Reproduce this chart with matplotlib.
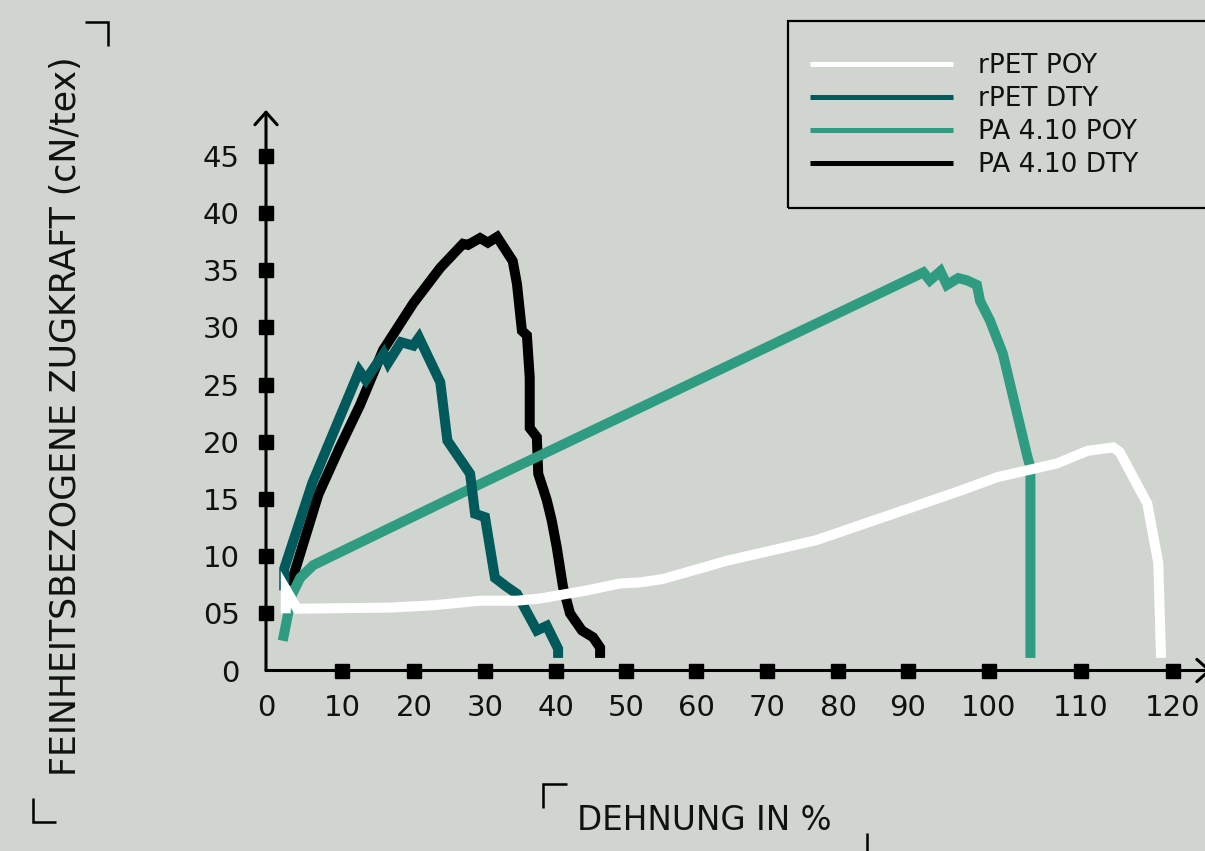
import numpy as np
import matplotlib.pyplot as plt
from matplotlib.lines import Line2D
from matplotlib.patches import Rectangle

W, H = 1205, 851
BG = "#d0d5cf"

# elongation (%) / tenacity (cN/tex)
RPET_POY_X = [2.6, 2.6, 4.1, 16.7, 22.7, 29.3, 34.5, 37.8, 44.4, 49.1, 52.0, 55.3,
              64.4, 77.0, 87.9, 96.4, 100.9, 107.4, 110.7, 113.5, 114.2, 117.2, 118.4, 118.7]
RPET_POY_Y = [5.0, 7.1, 5.4, 5.5, 5.7, 6.1, 6.1, 6.3, 7.0, 7.6, 7.7, 8.0,
              9.6, 11.4, 13.7, 15.7, 16.9, 18.1, 19.2, 19.5, 19.1, 14.6, 9.4, 1.1]

RPET_DTY_X = [2.4, 2.4, 6.1, 6.8, 12.4, 13.3, 15.8, 16.4, 18.2, 19.9, 20.7, 23.7,
              24.7, 27.9, 28.6, 30.0, 31.4, 33.1, 34.5, 37.3, 38.7, 40.3, 40.3]
RPET_DTY_Y = [7.0, 8.9, 16.4, 17.5, 26.2, 25.4, 27.7, 26.9, 28.7, 28.4, 29.1, 25.2,
              20.1, 17.2, 13.7, 13.4, 8.1, 7.3, 6.7, 3.5, 3.9, 1.9, 1.1]

PA_POY_X = [2.2, 3.4, 4.5, 6.2, 30.0, 60.0, 91.9, 92.7, 94.0, 94.8, 96.2, 97.3,
            98.5, 98.9, 100.1, 101.5, 104.2, 104.5, 104.5]
PA_POY_Y = [2.6, 6.6, 8.1, 9.2, 16.5, 25.3, 34.8, 34.1, 34.9, 33.7, 34.3, 34.1,
            33.7, 32.3, 30.6, 27.7, 18.6, 17.8, 1.1]

PA_DTY_X = [3.2, 6.9, 9.7, 12.5, 15.7, 19.9, 23.7, 26.9, 27.6, 29.3, 30.4, 31.7,
            33.9, 34.5, 35.2, 35.9, 36.3, 36.3, 37.3, 37.5, 38.7, 39.4, 40.1, 41.0,
            42.0, 43.7, 45.3, 46.3, 46.3]
PA_DTY_Y = [7.4, 15.4, 19.5, 23.2, 28.0, 32.1, 35.2, 37.3, 37.2, 37.8, 37.4, 37.9,
            35.8, 33.8, 29.7, 29.3, 25.6, 21.2, 20.4, 17.2, 14.9, 13.1, 10.8, 7.3,
            5.0, 3.5, 2.9, 2.0, 1.1]

SERIES_LABELS = ["rPET POY", "rPET DTY", "PA 4.10 POY", "PA 4.10 DTY"]
SERIES_COLORS = ["#ffffff", "#005a5c", "#2f9b80", "#000000"]

X_TICKS = list(range(0, 121, 10))
X_TICK_LABELS = [str(v) for v in X_TICKS]
Y_TICKS = list(range(0, 46, 5))
Y_TICK_LABELS = ["0", "05", "10", "15", "20", "25", "30", "35", "40", "45"]

# the printed x axis is not evenly spaced: this is where each tick sits
X_LAYOUT = np.array([0, 76, 148, 219, 290, 360, 430, 501, 572, 642, 723, 815, 907], float)
X_VALS = np.array(X_TICKS, float)


def x_forward(v):
    v = np.asarray(v, float)
    u = np.interp(v, X_VALS, X_LAYOUT)
    lo = (X_LAYOUT[1] - X_LAYOUT[0]) / (X_VALS[1] - X_VALS[0])
    hi = (X_LAYOUT[-1] - X_LAYOUT[-2]) / (X_VALS[-1] - X_VALS[-2])
    u = np.where(v < X_VALS[0], X_LAYOUT[0] + (v - X_VALS[0]) * lo, u)
    u = np.where(v > X_VALS[-1], X_LAYOUT[-1] + (v - X_VALS[-1]) * hi, u)
    return u


def x_inverse(u):
    u = np.asarray(u, float)
    v = np.interp(u, X_LAYOUT, X_VALS)
    lo = (X_VALS[1] - X_VALS[0]) / (X_LAYOUT[1] - X_LAYOUT[0])
    hi = (X_VALS[-1] - X_VALS[-2]) / (X_LAYOUT[-1] - X_LAYOUT[-2])
    v = np.where(u < X_LAYOUT[0], X_VALS[0] + (u - X_LAYOUT[0]) * lo, v)
    v = np.where(u > X_LAYOUT[-1], X_VALS[-1] + (u - X_LAYOUT[-1]) * hi, v)
    return v


def fig_xy(px, py):
    return px / W, 1 - py / H


fig = plt.figure(figsize=(W / 100, H / 100), dpi=100, facecolor=BG)
ax = fig.add_axes([0, 0, 1, 1])
ax.set_facecolor(BG)
ax.set_xscale("function", functions=(x_forward, x_inverse))
ax.set_xlim(float(x_inverse(-266)), float(x_inverse(W - 266)))
ax.set_ylim(-(H - 670.5) / 11.44, 670.5 / 11.44)

for side in ["top", "right", "left", "bottom"]:
    ax.spines[side].set_color("none")
ax.spines["left"].set_position(("data", 0))
ax.spines["bottom"].set_position(("data", 0))

ax.set_xticks(X_TICKS, X_TICK_LABELS)
ax.set_yticks(Y_TICKS, Y_TICK_LABELS)
ax.tick_params(axis="both", length=0, labelsize=21, colors="#111111")
ax.tick_params(axis="x", pad=17)
ax.tick_params(axis="y", pad=19)

# axes with open arrow heads
arrow = dict(arrowstyle="->,head_length=0.45,head_width=0.4", lw=2.2,
             color="black", shrinkA=0, shrinkB=0, mutation_scale=20)
ax.annotate("", xy=(0, 49.0), xytext=(0, 0), arrowprops=arrow,
            annotation_clip=False)
ax.annotate("", xy=(124.2, 0), xytext=(0, 0), arrowprops=arrow,
            annotation_clip=False)

# square tick markers
ax.plot(X_TICKS[1:], [0] * (len(X_TICKS) - 1), "s", ms=10, color="black",
        clip_on=False, zorder=6)
ax.plot([0] * (len(Y_TICKS) - 1), Y_TICKS[1:], "s", ms=10, color="black",
        clip_on=False, zorder=6)

curves = [
    (RPET_POY_X, RPET_POY_Y, 5),
    (RPET_DTY_X, RPET_DTY_Y, 4),
    (PA_POY_X, PA_POY_Y, 3),
    (PA_DTY_X, PA_DTY_Y, 2),
]
for (xs, ys, z), label, color in zip(curves, SERIES_LABELS, SERIES_COLORS):
    ax.plot(xs, ys, color=color, lw=7.2, solid_joinstyle="miter",
            solid_capstyle="butt", label=label, zorder=z)

handles = [Line2D([], [], color=c, lw=3.6, solid_capstyle="butt") for c in SERIES_COLORS]
ax.legend(handles, SERIES_LABELS, loc="upper left",
          bbox_to_anchor=fig_xy(810, 53), bbox_transform=fig.transFigure,
          frameon=False, borderpad=0, borderaxespad=0, fontsize=19,
          handlelength=5.4, handletextpad=0.98, labelspacing=0.27,
          labelcolor="#111111")
fig.add_artist(Rectangle(fig_xy(788, 208), (1225 - 788) / W, (208 - 21) / H,
                         transform=fig.transFigure, fill=False, lw=1.6,
                         ec="black"))

ax.set_xlabel("DEHNUNG IN %", fontsize=23.5, color="#111111", va="center")
ax.xaxis.set_label_coords(*fig_xy(704, 821))
ax.set_ylabel("FEINHEITSBEZOGENE ZUGKRAFT (cN/tex)", fontsize=25,
              color="#111111", va="center")
ax.yaxis.set_label_coords(*fig_xy(66, 416))

# corner brackets around the axis titles
brackets = [
    [(85, 22), (108, 22), (108, 46)],
    [(33, 798), (33, 822), (56, 822)],
    [(543, 808), (543, 784), (567, 784)],
    [(867, 833), (867, 851)],
]
for pts in brackets:
    xs, ys = zip(*[fig_xy(px, py) for px, py in pts])
    fig.add_artist(Line2D(xs, ys, transform=fig.transFigure, lw=1.8,
                          color="black", solid_joinstyle="miter",
                          solid_capstyle="butt"))

fig.savefig("out.png", dpi=100, facecolor=BG)
